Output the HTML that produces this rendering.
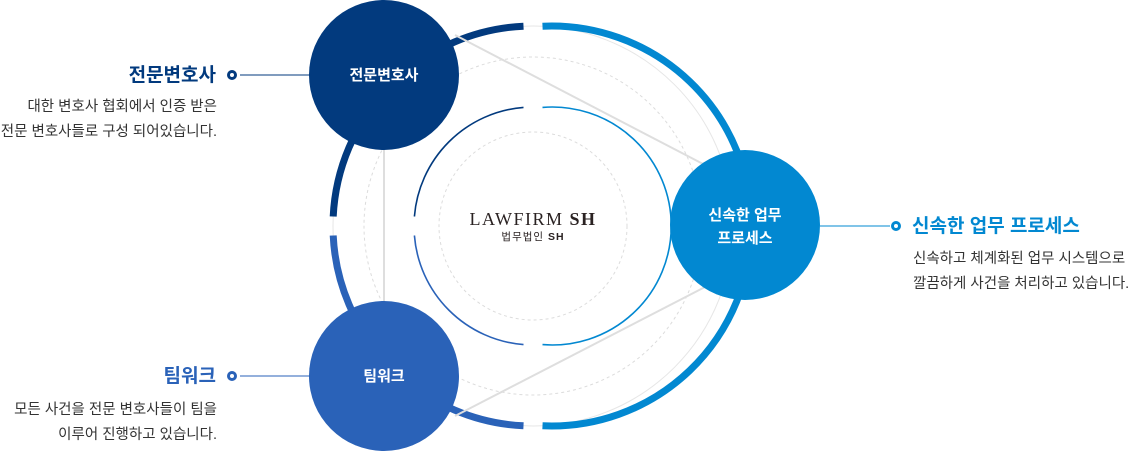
<!DOCTYPE html>
<html><head><meta charset="utf-8"><style>
html,body{margin:0;padding:0;background:#fff;}
body{width:1129px;height:451px;overflow:hidden;position:relative;font-family:"Liberation Sans","Noto Sans CJK KR",sans-serif;}
svg{position:absolute;left:0;top:0;}
</style></head><body>
<svg width="1129" height="451" viewBox="0 0 1129 451" xmlns="http://www.w3.org/2000/svg">
<g fill="none">
<circle cx="533" cy="226" r="200" stroke="#e6e6e6" stroke-width="1"/>
<circle cx="533" cy="226" r="169" stroke="#dcdcdc" stroke-width="1" stroke-dasharray="3,3"/>
<circle cx="533" cy="226" r="94" stroke="#dcdcdc" stroke-width="1" stroke-dasharray="3,3"/>
<path d="M523.5,26.2 A200,200 0 0 0 333.2,216.5" stroke="#023a7e" stroke-width="7"/>
<path d="M333.2,235.5 A200,200 0 0 0 523.5,425.8" stroke="#2a62b8" stroke-width="7"/>
<path d="M542.5,26.2 A200,200 0 1 1 542.5,425.8" stroke="#0288d1" stroke-width="7"/>
<path d="M523.5,107.4 A119,119 0 0 0 414.4,216.5" stroke="#023a7e" stroke-width="1.6"/>
<path d="M414.4,235.5 A119,119 0 0 0 523.5,344.6" stroke="#2a62b8" stroke-width="1.6"/>
<path d="M542.5,107.4 A119,119 0 1 1 542.5,344.6" stroke="#0288d1" stroke-width="1.6"/>
<line x1="455" y1="35" x2="705" y2="165" stroke="#dedede" stroke-width="2"/>
<line x1="384" y1="140" x2="384" y2="310" stroke="#dedede" stroke-width="2"/>
<line x1="455" y1="416" x2="705" y2="287" stroke="#dedede" stroke-width="2"/>
<line x1="240" y1="75" x2="312" y2="75" stroke="#023a7e" stroke-width="1"/>
<line x1="240" y1="376" x2="312" y2="376" stroke="#2a62b8" stroke-width="1"/>
<line x1="820" y1="226" x2="890" y2="226" stroke="#0288d1" stroke-width="1"/>
</g>
<circle cx="384" cy="75" r="75" fill="#023a7e"/>
<circle cx="384" cy="376" r="75" fill="#2a62b8"/>
<circle cx="745" cy="225" r="75" fill="#0288d1"/>
<circle cx="232" cy="75" r="3.5" fill="#fff" stroke="#023a7e" stroke-width="3"/>
<circle cx="232" cy="376" r="3.5" fill="#fff" stroke="#2a62b8" stroke-width="3"/>
<circle cx="896" cy="226" r="3.5" fill="#fff" stroke="#0288d1" stroke-width="3"/>
<g font-family="'Liberation Sans','Noto Sans CJK KR',sans-serif">
<text x="384" y="80" fill="#fff" font-size="15" font-weight="bold" text-anchor="middle">전문변호사</text>
<text x="384" y="381" fill="#fff" font-size="15" font-weight="bold" text-anchor="middle">팀워크</text>
<text x="745" y="220" fill="#fff" font-size="15" font-weight="bold" text-anchor="middle">신속한 업무</text>
<text x="745" y="243" fill="#fff" font-size="15" font-weight="bold" text-anchor="middle">프로세스</text>
<text x="216" y="81" fill="#023a7e" font-size="19" font-weight="bold" text-anchor="end">전문변호사</text>
<text x="217" y="111" fill="#333" font-size="14.5" text-anchor="end">대한 변호사 협회에서 인증 받은</text>
<text x="217" y="136" fill="#333" font-size="14.5" text-anchor="end">전문 변호사들로 구성 되어있습니다.</text>
<text x="216" y="382" fill="#2a62b8" font-size="19" font-weight="bold" text-anchor="end">팀워크</text>
<text x="217" y="414" fill="#333" font-size="14.5" text-anchor="end">모든 사건을 전문 변호사들이 팀을</text>
<text x="217" y="439" fill="#333" font-size="14.5" text-anchor="end">이루어 진행하고 있습니다.</text>
<text x="912" y="232" fill="#0288d1" font-size="19" font-weight="bold">신속한 업무 프로세스</text>
<text x="913" y="263" fill="#333" font-size="14.5">신속하고 체계화된 업무 시스템으로</text>
<text x="913" y="288" fill="#333" font-size="14.5">깔끔하게 사건을 처리하고 있습니다.</text>
<text x="533" y="225" fill="#2a2222" font-size="18" font-family="'Liberation Serif',serif" text-anchor="middle" letter-spacing="1.5">LAWFIRM <tspan font-weight="bold">SH</tspan></text>
<text x="533" y="240" fill="#2a2222" font-size="10.5" text-anchor="middle" letter-spacing="1">법무법인 <tspan font-weight="bold">SH</tspan></text>
</g>
</svg>
</body></html>
